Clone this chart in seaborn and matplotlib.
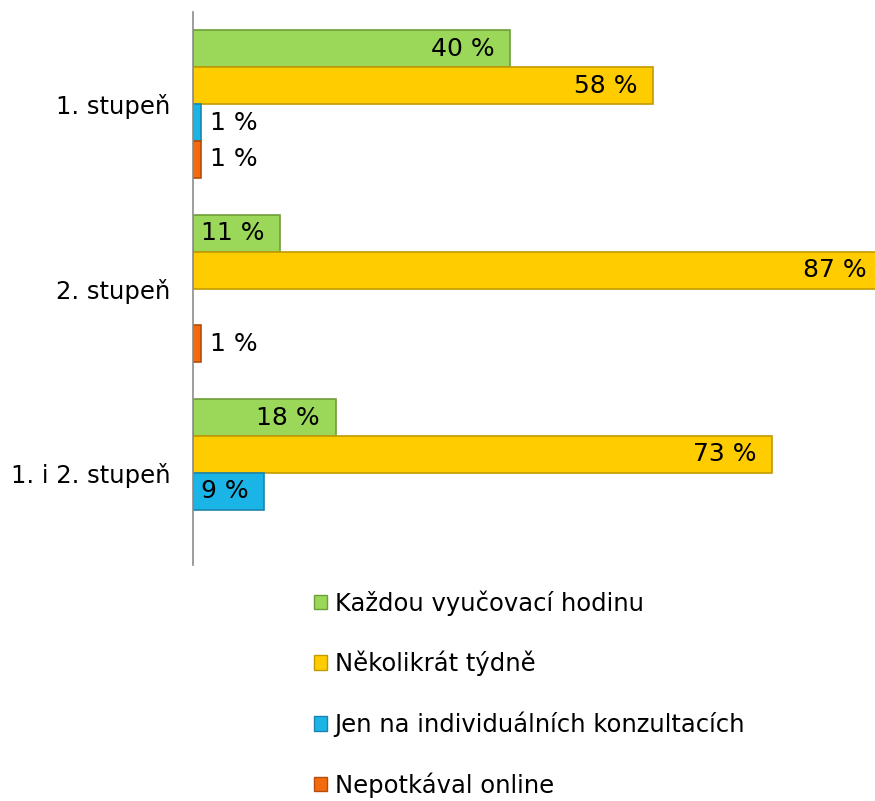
import numpy as np
import pandas as pd
import matplotlib
matplotlib.use("Agg")
import matplotlib.pyplot as plt
import seaborn as sns
from matplotlib.patches import Patch

categories = ["1. stupeň", "2. stupeň", "1. i 2. stupeň"]
series = ["Každou vyučovací hodinu", "Několikrát týdně",
          "Jen na individuálních konzultacích", "Nepotkával online"]
kazdou = [40, 11, 18]
nekolikrat = [58, 87, 73]
individualni = [1, np.nan, 9]
nepotkaval = [1, 1, np.nan]

colors = ["#9BD85A", "#FFCC00", "#1BB4E6", "#F26B0F"]
edges = ["#6E9E3A", "#C39A00", "#1A86AE", "#B54E0A"]

sns.set_theme(style="white")
plt.rcParams["font.family"] = ["DejaVu Sans"]
FS = 18
FS2 = 17.5

rows = []
for s, vals in zip(series, [kazdou, nekolikrat, individualni, nepotkaval]):
    for c, v in zip(categories, vals):
        rows.append({"kategorie": c, "serie": s, "hodnota": v})
df = pd.DataFrame(rows)

fig = plt.figure(figsize=(8.75, 8.01), dpi=100)
ax = fig.add_axes([193 / 875, 1 - 565 / 801, 1 - 193 / 875, (565 - 12) / 801])

sns.barplot(data=df, y="kategorie", x="hodnota", hue="serie",
            order=categories, hue_order=series, palette=colors, saturation=1,
            orient="h", width=0.8, ax=ax, legend=False, errorbar=None)

for cont, ec in zip(ax.containers, edges):
    for p in cont.patches:
        p.set_edgecolor(ec)
        p.set_linewidth(1.2)

ax.set_xlim(0, 86)
ax.set_ylim(2.5, -0.5)
ax.set_xlabel("")
ax.set_ylabel("")
ax.set_xticks([])
for side in ["top", "right", "bottom"]:
    ax.spines[side].set_visible(False)
ax.spines["left"].set_color("#8C8C8C")
ax.spines["left"].set_linewidth(1.2)
ax.tick_params(axis="y", length=0, pad=16.5, labelsize=FS2, labelcolor="black")

for cont in ax.containers:
    for p in cont.patches:
        w = p.get_width()
        if not np.isfinite(w) or w <= 0:
            continue
        yc = p.get_y() + p.get_height() / 2
        lab = f"{w:.0f} %"
        if w >= 5:
            ax.text(w - 2.0, yc, lab, ha="right", va="center",
                    fontsize=FS, color="black", clip_on=False)
        else:
            ax.text(w + 1.2, yc, lab, ha="left", va="center",
                    fontsize=FS, color="black", clip_on=False)

handles = [Patch(facecolor=c, edgecolor=e, linewidth=1) for c, e in zip(colors, edges)]
leg = fig.legend(handles, series, loc="upper left", bbox_to_anchor=(314 / 875, 1 - 590 / 801),
                 frameon=False, fontsize=FS2, handlelength=0.55, handleheight=0.55,
                 handletextpad=0.3, labelspacing=1.45, borderaxespad=0, borderpad=0)
for t in leg.get_texts():
    t.set_color("black")

fig.savefig("out.png", dpi=100)
